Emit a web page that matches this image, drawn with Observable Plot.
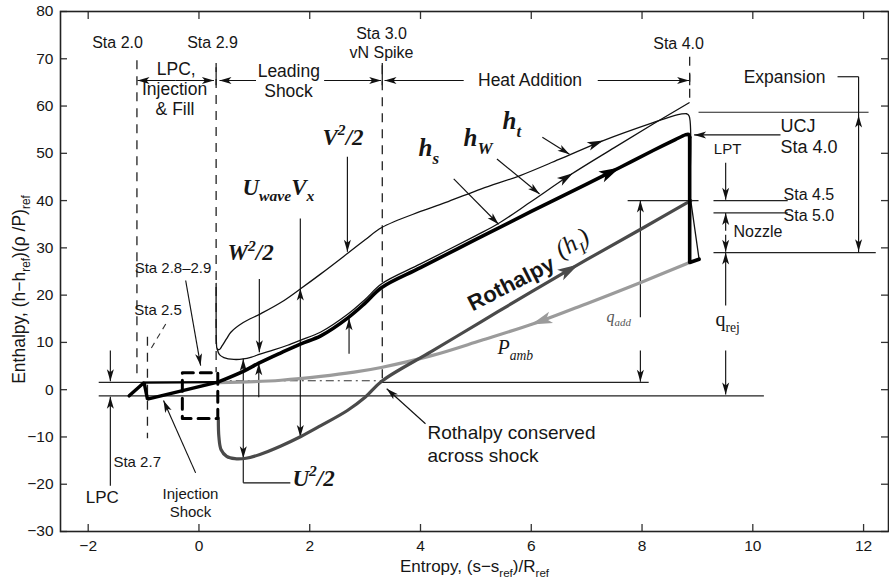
<!DOCTYPE html>
<html><head><meta charset="utf-8">
<script src="https://cdn.jsdelivr.net/npm/d3@7"></script>
<script src="https://cdn.jsdelivr.net/npm/@observablehq/plot@0.6"></script>
<style>
body{margin:0;background:#fff;}
#chart{width:889px;height:582px;}
</style></head><body><div id="chart"></div>
<script>
const W = 889, H = 582;
const xDomain = [-2.5, 12.45], yDomain = [-30, 80];
const M = {top: 11, right: 1, bottom: 51, left: 60};
const kx = (W - M.left - M.right) / (xDomain[1] - xDomain[0]);
const ky = (H - M.top - M.bottom) / (yDomain[1] - yDomain[0]);

const xTicks = [-2, 0, 2, 4, 6, 8, 10, 12];
const yTicks = [-30, -20, -10, 0, 10, 20, 30, 40, 50, 60, 70, 80];
const xLabel = ["Entropy, (s−s_{ref})/R_{ref}"];
const yLabel = ["Enthalpy, (h−h_{ref})(ρ /P)_{ref}"];

// ---- curves [entropy, enthalpy] ----
const hS = [[0.34,1.6],[0.82,4.0],[1.08,5.6],[1.48,7.8],[1.84,9.7],[2.2,11.4],[2.69,15.2],[3.0,18.3],[3.3,21.6],[4.0,25.8],[5.0,31.8],[6.0,37.7],[7.0,43.5],[7.6,47.0],[8.2,50.6],[8.6,52.9],[8.78,53.9],[8.84,54.0],[8.86,53.4]];
const hSDrop = [[8.86,53.4],[8.86,26.9],[9.03,27.6]];
const lpcPath = [[-1.26,-1.3],[-0.99,1.5],[-0.93,-2.0],[0.34,1.6]];
const lpcTop = [[-0.99,1.5],[0.34,1.6]];
const hW = [[0.33,8.6],[0.37,7.4],[0.45,6.8],[0.63,6.4],[0.8,6.5],[0.95,6.9],[1.1,7.5],[1.35,8.4],[1.6,9.4],[1.84,10.5],[2.2,12.2],[2.69,16.0],[3.0,19.1],[3.3,22.4],[4.0,26.6],[5.0,32.6],[5.4,35.1],[6.0,39.8],[6.7,45.4],[7.5,51.2],[8.2,56.2],[8.85,60.7]];
const hT = [[0.31,22.5],[0.31,14],[0.315,10],[0.33,8.6],[0.37,8.5],[0.42,9.3],[0.5,10.8],[0.58,12.2],[0.8,14.2],[1.12,16.1],[1.5,18.6],[1.84,21.4],[2.2,24.5],[2.68,28.8],[3.0,31.7],[3.3,34.3],[4.0,37.7],[4.5,39.8],[5.1,42.5],[5.8,45.3],[6.5,48.7],[7.3,52.7],[8.2,56.5],[8.65,58.2],[8.8,58.4]];
const hTDrop = [[8.8,58.4],[8.85,57.9],[8.85,40]];
const rothalpy = [[0.35,-6.0],[0.36,-10.0],[0.4,-12.7],[0.5,-14.1],[0.65,-14.6],[0.85,-14.5],[1.1,-13.7],[1.48,-11.9],[1.84,-9.9],[2.2,-7.6],[2.68,-4.4],[3.0,-1.6],[3.3,1.8],[4.2,8.1],[5.1,14.4],[6.0,20.7],[7.0,27.5],[8.0,34.1],[8.88,40.0]];
const pAmb = [[0.34,1.5],[1.0,1.7],[1.48,2.0],[2.2,2.8],[2.8,3.7],[3.29,4.7],[4.2,7.2],[5.09,10.4],[6.05,14.0],[7.0,18.2],[8.0,22.8],[8.88,27.0]];
const nozzleSliver = [[8.88,40],[9.03,27.6]];
const injectionBox = [[-0.3,3.6],[0.34,3.6],[0.34,-6.1],[-0.3,-6.1],[-0.3,3.6]];

// ---- station lines [x, yTop, yBottom] ----
const staDashed = [[-1.12,69.6,1.9],[-0.93,11.1,-10.4],[0.31,69,3.6],[3.31,68.5,1.8],[8.86,70.3,60.6]];
const staBars = [[0.31,68.1,64.3],[3.31,69,64.3],[8.86,66.6,64.3]];

// ---- reference lines [x1,y1,x2,y2] ----
const refLines = [[9.02,58.7,12.09,58.7],[7.74,40,9.02,40],[9.29,40,10.63,40],[9.29,37.4,10.63,37.4],[9.29,29,12.22,29],[-1.81,1.55,0.34,1.55],[3.3,1.55,8.12,1.55],[-1.81,-1.3,10.2,-1.3]];
const dashDot = [[0.34,1.9,3.3,1.9]];
const dashedLeader = [[-0.6,13.9,-0.906,7.9]];

// ---- arrows: shaft from (x1,y1) to head tip (x2,y2) ----
const arrows = [
  [-0.42,65.4,-1.11,65.4],[-0.42,65.4,0.27,65.4],
  [1.03,65.4,0.37,65.4],[2.26,65.4,3.29,65.4],
  [4.78,65.4,3.35,65.4],[7.2,65.4,8.85,65.4],
  [10.5,53.9,8.94,53.9],
  [9.51,48,9.51,40.2],
  [9.51,33.6,9.51,37.4],[9.51,32.8,9.51,29.2],
  [9.51,17.8,9.51,29.0],[9.51,8.3,9.51,-1.0],
  [7.97,15.3,7.97,40],[7.97,8.3,7.97,1.7],
  [2.68,49.3,2.68,29.2],[2.71,7.6,2.71,15.1],
  [1.09,23.4,1.09,7.9],[1.08,-1.6,1.08,5.6],
  [-0.24,23.1,0.03,5.1],
  [-0.06,-17.6,-0.64,-2.3],
  [4.09,-7.2,3.39,0.2],
  [6.2,53.4,6.69,49.8],
  [5.38,48.8,6.15,41.4],
  [4.6,44.6,5.41,35.0],
  [-1.6,8.3,-1.6,1.8],[-1.6,-20.3,-1.6,-1.5]
];
// plain shafts and heads placed along them [tipX,tipY,fromX,fromY]
const shafts = [[1.83,36.2,1.83,-10.0],[0.8,6.6,0.8,-19.7],[0.8,-19.7,1.65,-19.7],[11.53,66.2,11.91,66.2],[11.91,66.2,11.91,29.0]];
const midHeads = [[1.83,21.4,1.83,10],[1.83,-10.0,1.83,0],[0.8,6.5,0.8,0],[0.8,-14.5,0.8,-5],[11.91,58.0,11.91,50],[11.91,29.3,11.91,40]];
// flow-direction heads on the curves [tipX,tipY,fromX,fromY]
const thinCurveHeads = [[7.3,52.7,6.3,48.1],[6.75,45.8,5.75,38.2]];
const hSHeads = [[7.6,47.0,6.6,41.1]];
const rothalpyHeads = [[6.85,26.5,5.85,19.7]];
const pAmbHeads = [[6.0,13.8,7.0,18.0]];

// ---- labels [text, x, y] ----
const stationLabels = [["Sta 2.0",-1.47,73.45],["Sta 2.9",0.245,73.45],["Sta 3.0",3.296,75.35],["vN Spike",3.296,71.33],["Sta 4.0",8.66,73.24]];
const phaseLabels = [["LPC,",-0.411,67.74],["Injection",-0.441,63.5],["& Fill",-0.432,59.28],["Leading",1.622,67.3],["Shock",1.617,63.1],["Heat Addition",5.978,65.41],["Expansion",10.573,66.11]];
const ucjLabels = [["UCJ",10.5,55.68],["Sta 4.0",10.5,51.3]];
const nozzleLabels = [["Sta 4.5",10.555,41.3],["Sta 5.0",10.555,36.85],["Nozzle",9.652,33.3]];
const noteLabels = [["LPT",9.544,50.8],["Sta 2.8–2.9",-0.469,25.64],["Sta 2.5",-0.739,16.75],["Sta 2.7",-1.115,-15.34],["Injection",-0.153,-22.17],["Shock",-0.153,-25.91]];
const lpcLabel = [["LPC",-1.747,-22.74]];
const conservedLabels = [["Rothalpy conserved",4.127,-9.16],["across shock",4.127,-13.92]];
const termLabels = [["U_{wave}V_{x}",0.786,42.84],["W^{2}/2",0.516,28.92],["U^{2}/2",1.687,-18.79]];
const vLabel = [["V^{2}/2",2.601,53.35]];
const hLabels = [["h_{s}",3.965,51.03],["h_{W}",4.777,53.14],["h_{t}",5.481,56.74]];
const rothalpyWord = [["Rothalpy",5.638,22.4]];
const rothalpySym = [["(h_{I})",6.74,31.0]];
const pAmbLabel = [["P_{amb}",5.391,9.0]];
const qAddLabel = [["q_{add}",7.359,15.5]];
const qRejLabel = [["q_{rej}",9.327,14.9]];

const sans = "'Liberation Sans', Arial, Helvetica, sans-serif";
const serif = "'Liberation Serif', 'Times New Roman', serif";
const ink = "#161616";

function head(angleDeg, L, Wd, notch) {
  const a = angleDeg * Math.PI / 180, c = Math.cos(a), s = Math.sin(a);
  const pts = [[0,0],[-Wd/2,L],[0,L-notch],[Wd/2,L]].map(([x,y]) => [x*c - y*s, x*s + y*c]);
  return {draw(ctx) { ctx.moveTo(pts[0][0], pts[0][1]); for (let i = 1; i < pts.length; i++) ctx.lineTo(pts[i][0], pts[i][1]); ctx.closePath(); }};
}
function heads(list, color, L, Wd, notch) {
  return list.map(([tx,ty,fx,fy]) => Plot.dot([[tx,ty]], {
    x: d => d[0], y: d => d[1], r: 3, fill: color, stroke: "none",
    symbol: head(Math.atan2((tx-fx)*kx, (ty-fy)*ky) * 180 / Math.PI, L, Wd, notch)
  }));
}
const X = d => d[0], Y = d => d[1];
const seg = {x1: d => d[0], y1: d => d[1], x2: d => d[2], y2: d => d[3]};
const lbl = {x: d => d[1], y: d => d[2], text: d => d[0], fill: ink, lineAnchor: "middle"};

const plot = Plot.plot({
  width: W, height: H,
  marginTop: M.top, marginRight: M.right, marginBottom: M.bottom, marginLeft: M.left,
  x: {domain: xDomain},
  y: {domain: yDomain},
  style: {fontFamily: sans, color: ink, background: "white"},
  marks: [
    // axes
    Plot.axisX(xTicks, {tickSize: 0, tickPadding: 8, fontSize: 15.5, label: null}),
    Plot.axisY(yTicks, {tickSize: 0, tickPadding: 7, fontSize: 15.5, label: null}),
    Plot.ruleX(xTicks, {y1: yDomain[0], y2: yDomain[0] + 7/ky, stroke: "#333", strokeWidth: 1.3}),
    Plot.ruleX(xTicks, {y1: yDomain[1], y2: yDomain[1] - 8/ky, stroke: "#333", strokeWidth: 1.3}),
    Plot.ruleY(yTicks, {x1: xDomain[0], x2: xDomain[0] + 7/kx, stroke: "#333", strokeWidth: 1.3}),
    Plot.ruleY(yTicks, {x1: xDomain[1], x2: xDomain[1] - 7/kx, stroke: "#333", strokeWidth: 1.3}),
    Plot.text(xLabel, {frameAnchor: "bottom", textAnchor: "middle", lineAnchor: "middle", dy: 35, fontSize: 17, fill: ink}),
    Plot.text(yLabel, {frameAnchor: "left", textAnchor: "middle", lineAnchor: "middle", dx: -41, dy: 18, rotate: -90, fontSize: 17.5, fill: ink}),

    // station lines
    Plot.ruleX(staDashed, {x: d => d[0], y1: d => d[1], y2: d => d[2], stroke: "#222", strokeWidth: 1.3, strokeDasharray: "9,7"}),
    Plot.ruleX(staBars, {x: d => d[0], y1: d => d[1], y2: d => d[2], stroke: "#222", strokeWidth: 1.3}),
    Plot.link(refLines, {...seg, stroke: "#222", strokeWidth: 1.1}),
    Plot.link(dashDot, {...seg, stroke: "#333", strokeWidth: 1.1, strokeDasharray: "8,4,2,4"}),
    Plot.link(dashedLeader, {...seg, stroke: "#333", strokeWidth: 1.1, strokeDasharray: "6,5"}),

    // arrows
    Plot.link(arrows, {...seg, stroke: "#111", strokeWidth: 1.15}),
    Plot.link(shafts, {...seg, stroke: "#111", strokeWidth: 1.15}),
    ...heads(arrows.map(([a,b,c,d]) => [c,d,a,b]), "#111", 12, 7, 3),
    ...heads(midHeads, "#111", 12, 7, 3),

    // curves
    Plot.line(pAmb, {x: X, y: Y, stroke: "#9b9b9b", strokeWidth: 3.2, curve: "catmull-rom"}),
    Plot.line(rothalpy, {x: X, y: Y, stroke: "#4a4a4a", strokeWidth: 3.2, curve: "catmull-rom"}),
    Plot.line(injectionBox, {x: X, y: Y, stroke: "#000", strokeWidth: 3, strokeDasharray: "11,7"}),
    Plot.line(hT, {x: X, y: Y, stroke: "#111", strokeWidth: 1.3, curve: "catmull-rom"}),
    Plot.line(hTDrop, {x: X, y: Y, stroke: "#111", strokeWidth: 1.3, curve: "catmull-rom"}),
    Plot.line(hW, {x: X, y: Y, stroke: "#111", strokeWidth: 1.3, curve: "catmull-rom"}),
    Plot.line(nozzleSliver, {x: X, y: Y, stroke: "#111", strokeWidth: 1.3}),
    Plot.line(lpcTop, {x: X, y: Y, stroke: "#000", strokeWidth: 2.4}),
    Plot.line(lpcPath, {x: X, y: Y, stroke: "#000", strokeWidth: 3.4, strokeLinejoin: "miter"}),
    Plot.line(hS, {x: X, y: Y, stroke: "#000", strokeWidth: 3.6, curve: "catmull-rom"}),
    Plot.line(hSDrop, {x: X, y: Y, stroke: "#000", strokeWidth: 3.6}),
    ...heads(thinCurveHeads, "#111", 16, 9, 4),
    ...heads(hSHeads, "#000", 21, 12, 5),
    ...heads(rothalpyHeads, "#4a4a4a", 21, 12, 5),
    ...heads(pAmbHeads, "#9b9b9b", 21, 12, 5),

    // labels
    Plot.text(stationLabels, {...lbl, fontSize: 16}),
    Plot.text(phaseLabels, {...lbl, fontSize: 17.5}),
    Plot.text(ucjLabels, {...lbl, fontSize: 18, textAnchor: "start"}),
    Plot.text(nozzleLabels, {...lbl, fontSize: 16, textAnchor: "start"}),
    Plot.text(noteLabels, {...lbl, fontSize: 15}),
    Plot.text(lpcLabel, {...lbl, fontSize: 17}),
    Plot.text(conservedLabels, {...lbl, fontSize: 19, textAnchor: "start"}),
    Plot.text(termLabels, {...lbl, fontSize: 23, fontFamily: serif, fontStyle: "italic", fontWeight: "bold", textAnchor: "start"}),
    Plot.text(vLabel, {...lbl, fontSize: 23, fontFamily: serif, fontStyle: "italic", fontWeight: "bold"}),
    Plot.text(hLabels, {...lbl, fontSize: 25, fontFamily: serif, fontStyle: "italic", fontWeight: "bold", textAnchor: "start"}),
    Plot.text(rothalpyWord, {...lbl, fontSize: 22, fontWeight: "bold", rotate: -27}),
    Plot.text(rothalpySym, {...lbl, fontSize: 25, fontFamily: serif, fontStyle: "italic", rotate: -30}),
    Plot.text(pAmbLabel, {...lbl, fontSize: 20, fontFamily: serif, fontStyle: "italic", textAnchor: "start"}),
    Plot.text(qAddLabel, {...lbl, fontSize: 16, fontFamily: serif, fontStyle: "italic", textAnchor: "start", fill: "#555"}),
    Plot.text(qRejLabel, {...lbl, fontSize: 20, fontFamily: serif, textAnchor: "start"}),

    Plot.frame({stroke: "#222", strokeWidth: 1.6})
  ]
});
document.getElementById("chart").append(plot);

// turn _{..} and ^{..} into sub/superscript tspans
const svgNS = "http://www.w3.org/2000/svg";
plot.querySelectorAll("text").forEach(t => {
  if (t.querySelector("tspan")) return;
  const s = t.textContent;
  if (!/[_^]\{/.test(s)) return;
  const fs = parseFloat(getComputedStyle(t).fontSize) || 15;
  while (t.firstChild) t.removeChild(t.firstChild);
  const re = /([_^])\{([^}]*)\}|([^_^]+)/g;
  let m, cur = 0;
  while ((m = re.exec(s))) {
    const ts = document.createElementNS(svgNS, "tspan");
    let target = 0;
    if (m[1]) {
      target = m[1] === "_" ? 0.3 * fs : -0.42 * fs;
      ts.setAttribute("font-size", (0.68 * fs).toFixed(1));
      ts.textContent = m[2];
    } else ts.textContent = m[3];
    const d = target - cur;
    if (d) ts.setAttribute("dy", d.toFixed(2));
    cur = target;
    t.appendChild(ts);
  }
});
</script>
</body></html>
